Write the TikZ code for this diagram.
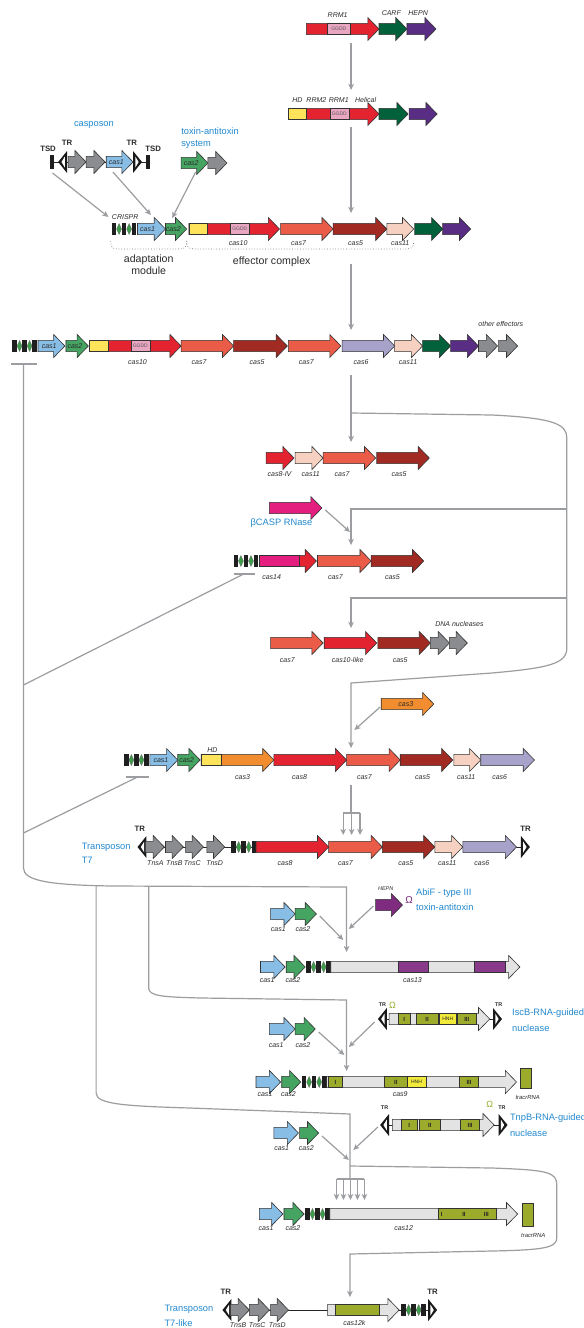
\documentclass[tikz,border=0pt]{standalone}
\usepackage{fontspec}
\setmainfont{Liberation Sans}
\usetikzlibrary{arrows.meta}
\definecolor{cred}{HTML}{E42331}
\definecolor{pinkbox}{HTML}{E9A6C0}
\definecolor{dgreen}{HTML}{00613A}
\definecolor{purp}{HTML}{5A2D84}
\definecolor{yel}{HTML}{FFE35A}
\definecolor{coral}{HTML}{EA5B48}
\definecolor{dred}{HTML}{A12A22}
\definecolor{peach}{HTML}{F6D0C1}
\definecolor{lav}{HTML}{A7A2C9}
\definecolor{blueA}{HTML}{88BDE6}
\definecolor{greenB}{HTML}{45A462}
\definecolor{ggrey}{HTML}{8A8C8F}
\definecolor{orng}{HTML}{F18D2E}
\definecolor{magn}{HTML}{E31E7F}
\definecolor{hepnp}{HTML}{7E2B80}
\definecolor{cpurp}{HTML}{8A3A8A}
\definecolor{olive}{HTML}{9CAB2C}
\definecolor{lgrey}{HTML}{E3E3E3}
\definecolor{hnhy}{HTML}{F2EA3A}
\definecolor{tblue}{HTML}{2289CF}
\definecolor{conng}{HTML}{9B9DA0}
\definecolor{crgreen}{HTML}{3D9D4A}
\definecolor{txtc}{HTML}{2B2B2B}
\def\bh{5.6}\def\hh{11.5}\def\hl{10}
\newcommand\ga[5][]{\filldraw[gene,fill=#5,#1] (#2,#4-\bh) -- (#3-\hl,#4-\bh) -- (#3-\hl,#4-\hh) -- (#3,#4) -- (#3-\hl,#4+\hh) -- (#3-\hl,#4+\bh) -- (#2,#4+\bh) -- cycle;}
\newcommand\bk[5][]{\filldraw[gene,fill=#5,#1] (#2,#4-\bh) rectangle (#3,#4+\bh);}
\newcommand\crA[2]{%
 \fill[black!88] (#1,#2-\bh) rectangle ++(4,2*\bh);
 \fill[black!88] (#1+9,#2-\bh) rectangle ++(4,2*\bh);
 \fill[black!88] (#1+18,#2-\bh) rectangle ++(4,2*\bh);
 \filldraw[fill=crgreen,draw=black!60,line width=0.3pt] (#1+4.3,#2) -- (#1+6.5,#2-5.5) -- (#1+8.7,#2) -- (#1+6.5,#2+5.5) -- cycle;
 \filldraw[fill=crgreen,draw=black!60,line width=0.3pt] (#1+13.3,#2) -- (#1+15.5,#2-5.5) -- (#1+17.7,#2) -- (#1+15.5,#2+5.5) -- cycle;}
\newcommand\trl[2]{\fill[black!90] (#1,#2) -- (#1+8,#2-11) -- (#1+8,#2+11) -- cycle; \fill[white] (#1+3,#2) -- (#1+6,#2-5.5) -- (#1+6,#2+5.5) -- cycle;}
\newcommand\trr[2]{\fill[black!90] (#1+8,#2) -- (#1,#2-11) -- (#1,#2+11) -- cycle; \fill[white] (#1+5,#2) -- (#1+2,#2-5.5) -- (#1+2,#2+5.5) -- cycle;}
\newcommand\gl[3]{\node[lab] (#1) at (#2) {#3};}
\newcommand\il[3]{\node[inl] (#1) at (#2) {#3};}
\begin{document}
\begin{tikzpicture}[x=1.118pt,y=-1pt,
  gene/.style={draw=black!80,line width=0.6pt},
  lab/.style={font=\fontsize{7}{8}\selectfont\itshape,text=txtc,inner sep=0pt},
  inl/.style={font=\fontsize{7}{8}\selectfont\itshape,text=txtc,inner sep=0pt},
  tiny/.style={font=\fontsize{5}{6}\selectfont,text=black!65,inner sep=0pt},
  num/.style={font=\fontsize{6}{7}\selectfont\bfseries,text=black!85,inner sep=0pt},
  bt/.style={font=\fontsize{9.3}{11}\selectfont,text=tblue,inner sep=0pt,anchor=west},
  trlab/.style={font=\fontsize{7.8}{9}\selectfont\bfseries,text=txtc,inner sep=0pt},
  trsm/.style={font=\fontsize{5.4}{6}\selectfont\bfseries,text=txtc,inner sep=0pt},
  conn/.style={draw=conng,line width=1.2pt},
  arr/.style={conn,-{Stealth[length=6pt,width=5.5pt,inset=1.5pt]}}]
\useasboundingbox (0,0) rectangle (522.36,1328);
\fill[white] (0,0) rectangle (522.36,1328);

% ---------- connectors ----------
\draw[arr] (314,43) -- (314,90);
\draw[arr] (314,127) -- (314,213);
\draw[arr] (47,173) -- (97,217);
\draw[arr] (101,172) -- (135,215);
\draw[arr] (175,172) -- (154,218);
\draw[arr] (314,264) -- (314,330);
\draw[arr] (314,375) -- (314,442);
\draw[arr] (314,413) -- (440,415) .. controls (495,418) and (507,424) .. (507,438) -- (507,648) .. controls (507,664) and (490,668) .. (440,673) -- (314,683) -- (314,748);
\draw[arr] (507,509) -- (314,509) -- (314,545);
\draw[arr] (291,510) -- (313,532);
\draw[arr] (507,598) -- (314,598) -- (314,628);
\draw[arr] (340,707) -- (317,730);
\draw[conn] (314,785) -- (314,813);
\draw[conn] (307,813) -- (322,813);
\foreach \xx in {307,314.5,322} \draw[arr] (\xx,813) -- (\xx,835);
\draw[conn] (10,364) -- (33,364);
\draw[arr] (21,364) -- (21,868) .. controls (21,881) and (45,885) .. (100,886) -- (310,887) -- (310,952);
\draw[conn] (209,574) -- (228,574);
\draw[conn] (218,574) -- (21,685);
\draw[conn] (113,777) -- (133,777);
\draw[conn] (123,777) -- (21,833);
\draw[arr] (133,886) -- (133,988) .. controls (133,996) and (145,997) .. (180,998) -- (310,1000) -- (310,1071);
\draw[conn] (86,886) -- (86,1093) .. controls (86,1104) and (110,1106) .. (170,1108) -- (313,1114) -- (313,1179);
\draw[conn] (301,1179) -- (326,1179);
\foreach \xx in {301,307.25,313.5,319.75,326} \draw[arr] (\xx,1179) -- (\xx,1200);
\draw[arr] (313,1166) -- (440,1168) .. controls (490,1170) and (498,1172) .. (498,1185) -- (498,1238) .. controls (498,1248) and (485,1250) .. (440,1251) -- (313,1254) -- (313,1297);
\draw[arr] (286,916) -- (307,940);
\draw[arr] (334,906) -- (312,929);
\draw[arr] (285,1032) -- (308,1055);
\draw[arr] (335,1022) -- (312,1047);
\draw[arr] (288,1136) -- (312,1160);
\draw[arr] (338,1127) -- (316,1150);

% ---------- row 1 ----------
\ga{274}{339}{29}{cred}\bk{293}{313}{29}{pinkbox}\node[tiny] (g1) at (303,29) {GGDD};
\ga{339}{364}{29}{dgreen}\ga{364}{390}{29}{purp}
\gl{r1a}{302,15}{RRM1}\gl{r1b}{350,13}{CARF}\gl{r1c}{374,13}{HEPN}

% ---------- row 2 ----------
\ga{258}{339}{114}{cred}\bk{258}{274}{114}{yel}\bk{295}{312}{114}{pinkbox}\node[tiny] (g2) at (303.5,114) {GGDD};
\ga{339}{365}{114}{dgreen}\ga{366}{391}{114}{purp}
\gl{r2a}{266,100}{HD}\gl{r2b}{283,100}{RRM2}\gl{r2c}{303,100}{RRM1}\gl{r2d}{327,100}{Helical}

% ---------- casposon / toxin-antitoxin ----------
\node[bt,anchor=center] (casp) at (84,125) {casposon};
\draw[black!85,line width=0.8pt] (46,162) -- (133,162);
\fill[black!88] (45,155) rectangle (48,169);
\trl{52}{162}
\ga{61}{77}{162}{ggrey}\ga{77}{94}{162}{ggrey}\ga{95}{119}{162}{blueA}\il{c1a}{104,162}{cas1}
\trr{119}{162}
\fill[black!88] (131,155) rectangle (134,169);
\node[trlab] (tsd1) at (43,149) {TSD};\node[trlab] (tr1) at (60,143) {TR};
\node[trlab] (tr2) at (118,143) {TR};\node[trlab] (tsd2) at (137,149) {TSD};
\node[bt] (ta1) at (162,131) {toxin-antitoxin};\node[bt] (ta2) at (162,144) {system};
\ga{162}{186}{163}{greenB}\il{c2a}{171,163}{cas2}\ga{186}{203}{163}{ggrey}

% ---------- row 3 ----------
\crA{100}{229}\gl{cr1}{112,217}{CRISPR}
\ga{123}{148}{229}{blueA}\il{c1b}{132,229}{cas1}
\ga{148}{167}{229}{greenB}\il{c2b}{155,229}{cas2}
\ga{169}{250}{229}{cred}\bk{169}{185}{229}{yel}\bk{206}{223}{229}{pinkbox}\node[tiny] (g3) at (214.5,229) {GGDD};
\ga{251}{298}{229}{coral}\ga{298}{346}{229}{dred}\ga{346}{370}{229}{peach}\ga{371}{396}{229}{dgreen}\ga{396}{421}{229}{purp}
\gl{r3a}{213,243}{cas10}\gl{r3b}{267,243}{cas7}\gl{r3c}{318,243}{cas5}\gl{r3d}{358,243}{cas11}
\draw[black!55,dotted,line width=0.7pt] (99,241) .. controls (99,248) and (101,249) .. (106,249) -- (160,249) .. controls (165,249) and (167,248) .. (167,241);
\draw[black!55,dotted,line width=0.7pt] (167,241) .. controls (167,248) and (169,249) .. (175,249) -- (362,249) .. controls (368,249) and (370,248) .. (370,241);
\node[font=\fontsize{10.6}{12}\selectfont,text=txtc,align=center,inner sep=0pt] (adm) at (133,265) {adaptation\\module};
\node[font=\fontsize{10.6}{12}\selectfont,text=txtc,inner sep=0pt] (efc) at (243,262) {effector complex};

% ---------- row 4 ----------
\crA{11}{346}
\ga{34}{58}{346}{blueA}\il{c1c}{44,346}{cas1}
\ga{59}{79}{346}{greenB}\il{c2c}{67,346}{cas2}
\ga{80}{162}{346}{cred}\bk{80}{97}{346}{yel}\bk{117}{134}{346}{pinkbox}\node[tiny] (g4) at (125.5,346) {GGDD};
\ga{162}{209}{346}{coral}\ga{209}{257}{346}{dred}\ga{258}{305}{346}{coral}\ga{306}{353}{346}{lav}
\ga{353}{378}{346}{peach}\ga{378}{403}{346}{dgreen}\ga{403}{428}{346}{purp}\ga{428}{445}{346}{ggrey}\ga{446}{463}{346}{ggrey}
\gl{oe}{448,324}{other effectors}
\gl{r4a}{123,362}{cas10}\gl{r4b}{178,362}{cas7}\gl{r4c}{230,362}{cas5}\gl{r4d}{274,362}{cas7}\gl{r4e}{323,362}{cas6}\gl{r4f}{365,362}{cas11}

% ---------- cas8-IV row ----------
\ga{238}{263}{458}{cred}\ga{264}{289}{458}{peach}\ga{289}{336}{458}{coral}\ga{337}{384}{458}{dred}
\gl{r5a}{250,474}{cas8-IV}\gl{r5b}{278,474}{cas11}\gl{r5c}{306,474}{cas7}\gl{r5d}{357,474}{cas5}

% ---------- beta-CASP ----------
\ga{241}{288}{508}{magn}
\node[bt] (bcasp) at (224,523) {βCASP RNase};

% ---------- cas14 row ----------
\crA{209}{561}
\ga{232}{283}{561}{cred}\bk{232}{268}{561}{magn}
\ga{284}{332}{561}{coral}\ga{332}{379}{561}{dred}
\gl{r6a}{243,577}{cas14}\gl{r6b}{300,577}{cas7}\gl{r6c}{351,577}{cas5}

% ---------- DNA nucleases row ----------
\ga{242}{289}{643}{coral}\ga{290}{337}{643}{cred}\ga{338}{385}{643}{dred}\ga{385}{402}{643}{ggrey}\ga{402}{418}{643}{ggrey}
\gl{dnan}{411,624}{DNA nucleases}
\gl{r7a}{257,660}{cas7}\gl{r7b}{311,660}{cas10-like}\gl{r7c}{358,660}{cas5}

% ---------- cas3 ----------
\ga{341}{388}{704}{orng}\il{c3a}{363,704}{cas3}

% ---------- type I row ----------
\crA{111}{760}
\ga{134}{159}{760}{blueA}\il{c1d}{144,760}{cas1}
\ga{159}{179}{760}{greenB}\il{c2d}{167,760}{cas2}
\ga{180}{245}{760}{orng}\bk{180}{198}{760}{yel}
\ga{245}{310}{760}{cred}\ga{310}{358}{760}{coral}\ga{358}{405}{760}{dred}\ga{406}{430}{760}{peach}\ga{430}{478}{760}{lav}
\gl{hd2}{190,750}{HD}
\gl{r8a}{217,777}{cas3}\gl{r8b}{268,777}{cas8}\gl{r8c}{326,777}{cas7}\gl{r8d}{378,777}{cas5}\gl{r8e}{417,777}{cas11}\gl{r8f}{447,777}{cas6}

% ---------- transposon T7 row ----------
\draw[black!85,line width=0.8pt] (126,847) -- (468,847);
\trl{123}{847}
\ga{130}{147}{847}{ggrey}\ga{148}{164}{847}{ggrey}\ga{166}{182}{847}{ggrey}\ga{185}{201}{847}{ggrey}
\crA{207}{847}
\ga{229}{294}{847}{cred}\ga{294}{342}{847}{coral}\ga{342}{389}{847}{dred}\ga{389}{414}{847}{peach}\ga{414}{462}{847}{lav}
\trr{466}{847}
\node[trlab] (tr3) at (125,829) {TR};\node[trlab] (tr4) at (470,829) {TR};
\node[bt] (tp1) at (73,847) {Transposon};\node[bt] (tp2) at (73,860) {T7};
\gl{r9a}{139,863}{TnsA}\gl{r9b}{156,863}{TnsB}\gl{r9c}{172,863}{TnsC}\gl{r9d}{192,863}{TnsD}
\gl{r9e}{255,863}{cas8}\gl{r9f}{309,863}{cas7}\gl{r9g}{363,863}{cas5}\gl{r9h}{400,863}{cas11}\gl{r9i}{431,863}{cas6}

% ---------- AbiF / cas13 ----------
\ga{242}{264}{914}{blueA}\ga{264}{283}{914}{greenB}
\gl{s1a}{249,929}{cas1}\gl{s1b}{271,929}{cas2}
\ga{336}{360}{905}{hepnp}
\node[font=\fontsize{5.5}{6}\selectfont\itshape,text=txtc,inner sep=0pt] (hepn2) at (345,889) {HEPN};
\node[font=\fontsize{10}{11}\selectfont,text=hepnp,inner sep=0pt] (om1) at (366,900) {Ω};
\node[bt] (abif1) at (372,893) {AbiF - type III};\node[bt] (abif2) at (372,907) {toxin-antitoxin};
\ga{233}{255}{967}{blueA}\ga{256}{273}{967}{greenB}\crA{274}{967}
\ga[]{296}{465}{967}{lgrey}\bk{356}{383}{967}{cpurp}\bk{424}{452}{967}{cpurp}
\gl{s2a}{239,980}{cas1}\gl{s2b}{262,980}{cas2}\gl{s2c}{369,980}{cas13}

% ---------- IscB / cas9 ----------
\draw[black!85,line width=0.8pt] (340,1019) -- (446,1019);
\trl{338}{1019}
\ga{348}{438}{1019}{lgrey}
\bk{356}{367}{1019}{olive}\bk{372}{392}{1019}{olive}\bk{393}{408}{1019}{hnhy}\bk{409}{426}{1019}{olive}
\node[num] (ib1) at (361.5,1019) {I};\node[num] (ib2) at (382,1019) {II};
\node[tiny,text=black!85] (ib3) at (400.5,1019) {HNH};\node[num] (ib4) at (417.5,1019) {III};
\trr{441}{1019}
\node[trsm] (tr5) at (342,1005) {TR};\node[trsm] (tr6) at (446,1005) {TR};
\node[font=\fontsize{9}{10}\selectfont,text=olive,inner sep=0pt] (om2) at (351,1005) {Ω};
\node[bt] (isc1) at (458,1013) {IscB-RNA-guided};\node[bt] (isc2) at (458,1028) {nuclease};
\ga{241}{264}{1029}{blueA}\ga{264}{282}{1029}{greenB}
\gl{s3a}{247,1045}{cas1}\gl{s3b}{271,1045}{cas2}
\ga{229}{251}{1082}{blueA}\ga{252}{269}{1082}{greenB}\crA{270}{1082}
\ga{292}{462}{1082}{lgrey}
\bk{294}{306}{1082}{olive}\bk{344}{364}{1082}{olive}\bk{364}{381}{1082}{hnhy}\bk{411}{428}{1082}{olive}
\node[num] (c9a) at (300,1082) {I};\node[num] (c9b) at (354,1082) {II};
\node[tiny,text=black!85] (c9c) at (372.5,1082) {HNH};\node[num] (c9d) at (419.5,1082) {III};
\filldraw[gene,fill=olive] (465,1068) rectangle (475,1088);
\gl{s4a}{237,1094}{cas1}\gl{s4b}{258,1094}{cas2}\gl{s4c}{358,1094}{cas9}
\node[font=\fontsize{5.9}{6}\selectfont\itshape,text=txtc,inner sep=0pt] (trc1) at (472,1097) {tracrRNA};

% ---------- TnpB / cas12 ----------
\draw[black!85,line width=0.8pt] (342,1125) -- (452,1125);
\trl{340}{1125}
\ga{351}{442}{1125}{lgrey}
\bk{359}{373}{1125}{olive}\bk{375}{394}{1125}{olive}\bk{412}{429}{1125}{olive}
\node[num] (tb1) at (366,1125) {I};\node[num] (tb2) at (384.5,1125) {II};\node[num] (tb3) at (420.5,1125) {III};
\trr{446}{1125}
\node[trsm] (tr7) at (344,1108) {TR};\node[trsm] (tr8) at (449,1108) {TR};
\node[font=\fontsize{9}{10}\selectfont,text=olive,inner sep=0pt] (om3) at (438,1104) {Ω};
\node[bt] (tnp1) at (456,1118) {TnpB-RNA-guided};\node[bt] (tnp2) at (456,1133) {nuclease};
\ga{245}{267}{1133}{blueA}\ga{268}{285}{1133}{greenB}
\gl{s5a}{252,1148}{cas1}\gl{s5b}{274,1148}{cas2}
\ga{232}{253}{1214}{blueA}\ga{254}{272}{1214}{greenB}\crA{273}{1214}
\ga{295}{463}{1214}{lgrey}\bk{392}{444}{1214}{olive}
\node[num] (c12a) at (395,1214) {I};\node[num] (c12b) at (415,1214) {II};\node[num] (c12c) at (435,1214) {III};
\filldraw[gene,fill=olive] (467,1203) rectangle (477,1226);
\gl{s6a}{238,1228}{cas1}\gl{s6b}{262,1228}{cas2}\gl{s6c}{361,1228}{cas12}
\node[font=\fontsize{5.9}{6}\selectfont\itshape,text=txtc,inner sep=0pt] (trc2) at (477,1235) {tracrRNA};

% ---------- cas12k row ----------
\draw[black!85,line width=0.8pt] (201,1310) -- (388,1310);
\trl{199}{1310}
\ga{206}{223}{1310}{ggrey}\ga{223}{241}{1310}{ggrey}\ga{242}{258}{1310}{ggrey}
\ga{293}{357}{1310}{lgrey}\bk{300}{339}{1310}{olive}
\crA{359}{1310}
\trr{383}{1310}
\node[trlab] (tr9) at (202,1292) {TR};\node[trlab] (tr10) at (387,1292) {TR};
\node[bt] (tp3) at (147,1309) {Transposon};\node[bt] (tp4) at (147,1323) {T7-like};
\gl{s7a}{317,1323}{cas12k}
\gl{s7b}{213,1325}{TnsB}\gl{s7c}{230,1325}{TnsC}\gl{s7d}{248,1325}{TnsD}
\end{tikzpicture}
\end{document}
